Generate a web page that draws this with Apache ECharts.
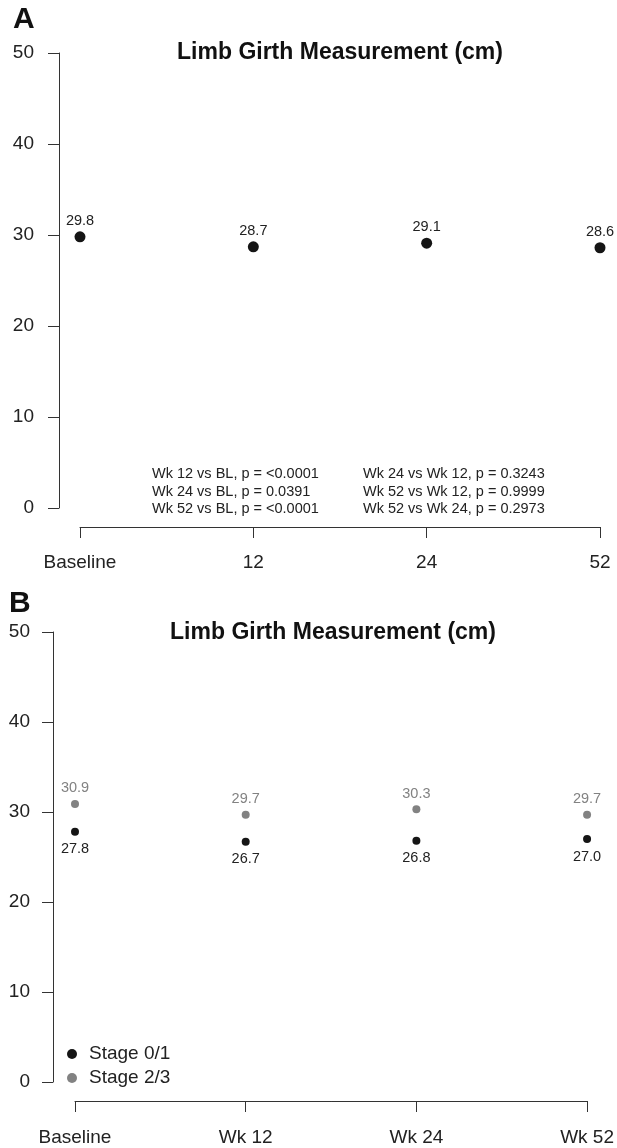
<!DOCTYPE html>
<html>
<head>
<meta charset="utf-8">
<script src="https://cdn.jsdelivr.net/npm/echarts@6/dist/echarts.min.js"></script>
<style>
html,body{margin:0;padding:0;background:#fff;}
#chart{width:617px;height:1148px;}
</style>
</head>
<body>
<div id="chart"></div>
<script>
// ---- Data ----
var catsA = ['Baseline', '12', '24', '52'];
var girthA = [29.8, 28.7, 29.1, 28.6];

var catsB = ['Baseline', 'Wk 12', 'Wk 24', 'Wk 52'];
var stage01 = [27.8, 26.7, 26.8, 27.0];
var stage23 = [30.9, 29.7, 30.3, 29.7];

var pLeft = ['Wk 12 vs BL, p = <0.0001', 'Wk 24 vs BL, p = 0.0391', 'Wk 52 vs BL, p = <0.0001'];
var pRight = ['Wk 24 vs Wk 12, p = 0.3243', 'Wk 52 vs Wk 12, p = 0.9999', 'Wk 52 vs Wk 24, p = 0.2973'];

var titleText = 'Limb Girth Measurement (cm)';
var seriesNames = ['Stage 0/1', 'Stage 2/3'];

// ---- Chart ----
var FONT = '"Liberation Sans", Arial, Helvetica, sans-serif';
var AX = '#333';
var BLACK = '#151515';
var GRAY = '#828282';

function pts(arr) { return arr.map(function (v, i) { return [i, v]; }); }
function fmt(p) { return p.value[1].toFixed(1); }

function yAxisCfg(gi, offset, margin) {
  return {
    type: 'value', gridIndex: gi, min: 0, max: 50, interval: 10,
    offset: offset,
    axisLine: { show: true, onZero: false, lineStyle: { color: AX, width: 1 } },
    axisTick: { show: true, length: 11, lineStyle: { color: AX, width: 1 } },
    axisLabel: { fontSize: 19, color: '#222', fontFamily: FONT, margin: margin },
    splitLine: { show: false }
  };
}
function xAxisCfg(gi, cats, offset, margin) {
  return {
    type: 'value', gridIndex: gi, min: 0, max: 3, interval: 1,
    offset: offset,
    axisLine: { show: true, onZero: false, lineStyle: { color: AX, width: 1 } },
    axisTick: { show: true, length: 11, lineStyle: { color: AX, width: 1 } },
    axisLabel: {
      fontSize: 19, color: '#222', fontFamily: FONT, margin: margin,
      formatter: function (v) { return cats[v] !== undefined ? cats[v] : ''; }
    },
    splitLine: { show: false }
  };
}

var graphics = [];
function txt(x, y, s, size, weight, align, color) {
  graphics.push({
    type: 'text', x: x, y: y, silent: true,
    style: {
      text: s, fill: color || '#222', fontSize: size, fontWeight: weight || 'normal',
      fontFamily: FONT, textAlign: align || 'left', textVerticalAlign: 'middle'
    }
  });
}
txt(13, 20, 'A', 30, 'bold', 'left', '#111');
txt(9, 604, 'B', 30, 'bold', 'left', '#111');
txt(340, 53, titleText, 23, 'bold', 'center', '#111');
txt(333, 633, titleText, 23, 'bold', 'center', '#111');
var rowY = [474, 492, 509];
pLeft.forEach(function (s, i) { txt(152, rowY[i], s, 14.5, 'normal', 'left', '#222'); });
pRight.forEach(function (s, i) { txt(363, rowY[i], s, 14.5, 'normal', 'left', '#222'); });

var option = {
  backgroundColor: '#fff',
  animation: false,
  textStyle: { fontFamily: FONT },
  grid: [
    { left: 80, right: 17, top: 53, height: 455 },
    { left: 75, right: 25, top: 632, height: 450 }
  ],
  xAxis: [xAxisCfg(0, catsA, 19, 26), xAxisCfg(1, catsB, 19, 27)],
  yAxis: [yAxisCfg(0, 21, 25), yAxisCfg(1, 22, 23)],
  legend: {
    orient: 'vertical', left: 67, top: 1044.5, padding: 0,
    data: seriesNames,
    icon: 'circle', itemWidth: 10, itemHeight: 10, itemGap: 5,
    textStyle: { fontSize: 19, color: '#222', fontFamily: FONT, lineHeight: 19, padding: [0, 0, 0, 7] }
  },
  graphic: graphics,
  series: [
    {
      type: 'scatter', name: 'A', xAxisIndex: 0, yAxisIndex: 0,
      data: pts(girthA), symbol: 'circle', symbolSize: 11,
      itemStyle: { color: BLACK, opacity: 1 },
      label: { show: true, position: 'top', distance: 3, formatter: fmt, fontSize: 14.5, color: '#222', fontFamily: FONT }
    },
    {
      type: 'scatter', name: seriesNames[0], xAxisIndex: 1, yAxisIndex: 1,
      data: pts(stage01), symbol: 'circle', symbolSize: 8,
      itemStyle: { color: BLACK, opacity: 1 },
      label: { show: true, position: 'bottom', distance: 6, formatter: fmt, fontSize: 14.5, color: '#222', fontFamily: FONT }
    },
    {
      type: 'scatter', name: seriesNames[1], xAxisIndex: 1, yAxisIndex: 1,
      data: pts(stage23), symbol: 'circle', symbolSize: 8,
      itemStyle: { color: GRAY, opacity: 1 },
      label: { show: true, position: 'top', distance: 4, formatter: fmt, fontSize: 14.5, color: GRAY, fontFamily: FONT }
    }
  ]
};

var chart = echarts.init(document.getElementById('chart'), null, { renderer: 'canvas' });
chart.setOption(option);
</script>
</body>
</html>
